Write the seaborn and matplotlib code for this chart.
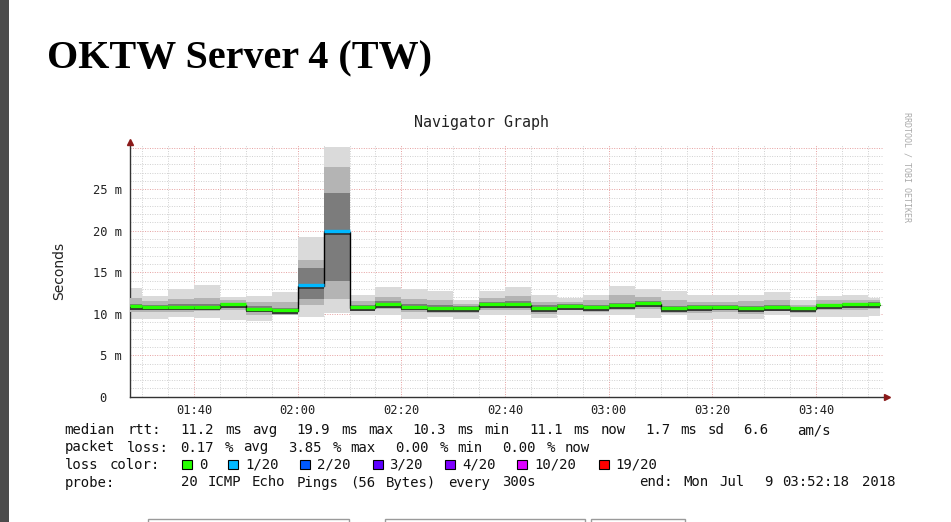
import re

import matplotlib
matplotlib.use("Agg")
import matplotlib.pyplot as plt
import seaborn as sns
from matplotlib.patches import Rectangle

# ---- data (time in minutes after 00:00, rtt in ms) ----
bin_start = [87.7, 90, 95, 100, 105, 110, 115, 120, 125, 130, 135, 140, 145,
             150, 155, 160, 165, 170, 175, 180, 185, 190, 195, 200, 205, 210,
             215, 220, 225, 230]
end_time = 232.3

median_ms = [10.8, 10.75, 10.75, 10.75, 11.0, 10.5, 10.3, 13.3, 19.9, 10.7,
             11.1, 10.75, 10.6, 10.6, 11.05, 11.05, 10.6, 10.85, 10.7, 10.9,
             11.2, 10.55, 10.7, 10.75, 10.55, 10.65, 10.55, 10.9, 11.0, 11.1]
smoke_min = [9.4, 9.4, 9.55, 9.5, 9.3, 9.15, 9.8, 9.6, 10.1, 9.9, 9.8, 9.4,
             9.6, 9.4, 9.8, 9.9, 9.5, 9.9, 9.8, 9.9, 9.5, 9.8, 9.2, 9.35,
             9.35, 9.9, 9.6, 9.6, 9.6, 9.75]
smoke_q1 = [10.2, 10.2, 10.2, 10.3, 10.4, 9.9, 9.9, 11.0, 11.8, 10.3, 10.6,
            10.2, 10.1, 10.1, 10.5, 10.5, 10.0, 10.4, 10.2, 10.4, 10.6, 10.1,
            10.1, 10.2, 10.0, 10.3, 10.1, 10.4, 10.5, 10.6]
smoke_c1 = [10.5, 10.5, 10.5, 10.5, 10.7, 10.2, 10.1, 11.8, 14.0, 10.5, 10.8,
            10.5, 10.35, 10.4, 10.8, 10.8, 10.3, 10.6, 10.45, 10.65, 10.9,
            10.3, 10.45, 10.5, 10.3, 10.45, 10.35, 10.65, 10.75, 10.85]
smoke_c3 = [11.2, 11.1, 11.2, 11.2, 11.3, 10.9, 10.7, 15.5, 24.5, 11.0, 11.5,
            11.2, 11.0, 10.95, 11.4, 11.5, 11.0, 11.15, 11.05, 11.35, 11.55,
            10.95, 11.0, 11.1, 10.9, 11.05, 10.85, 11.2, 11.3, 11.4]
smoke_q3 = [11.9, 11.5, 11.8, 11.9, 11.6, 11.4, 11.4, 16.5, 27.7, 11.5, 12.0,
            11.8, 11.6, 11.2, 11.9, 12.1, 11.4, 11.4, 11.6, 12.2, 12.0, 11.7,
            11.4, 11.4, 11.5, 11.7, 11.1, 11.6, 11.6, 11.6]
smoke_max = [13.1, 12.1, 13.0, 13.5, 12.0, 12.1, 12.6, 19.2, 30.1, 12.2, 13.2,
             13.0, 12.7, 11.6, 12.7, 13.2, 12.3, 11.9, 12.3, 13.4, 13.0, 12.7,
             12.2, 12.2, 12.3, 12.6, 11.6, 12.1, 12.2, 11.9]
loss_count = [0, 0, 0, 0, 0, 0, 0, 1, 1, 0, 0, 0, 0, 0, 0, 0, 0, 0, 0, 0, 0,
              0, 0, 0, 0, 0, 0, 0, 0, 0]

loss_labels = ["0", "1/20", "2/20", "3/20", "4/20", "10/20", "19/20"]
loss_colors = ["#26ff00", "#00b8ff", "#0059ff", "#5e00ff", "#7e00ff",
               "#dd00ff", "#ff0000"]
loss_key = [0, 1, 2, 3, 4, 10, 19]

x_ticks = [100, 120, 140, 160, 180, 200, 220]
x_labels = ["01:40", "02:00", "02:20", "02:40", "03:00", "03:20", "03:40"]
y_ticks = [0, 5, 10, 15, 20, 25]
y_labels = ["0  ", "5 m", "10 m", "15 m", "20 m", "25 m"]

page_title = "OKTW Server 4 (TW)"
graph_title = "Navigator Graph"
legend_rtt = ("median rtt:  11.2 ms avg  19.9 ms max  10.3 ms min  "
              "11.1 ms now  1.7 ms sd  6.6   am/s")
legend_loss = "packet loss: 0.17 % avg  3.85 % max  0.00 % min  0.00 % now"
legend_color = "loss color:"
legend_probe = "probe:       20 ICMP Echo Pings (56 Bytes) every 300s"
legend_end = "end: Mon Jul  9 03:52:18 2018"

# ---- figure ----
W, H = 951, 522
sns.set_style("white")
plt.rcParams["font.family"] = ["DejaVu Sans"]
plt.rcParams["text.color"] = "black"
MONO = "DejaVu Sans Mono"

fig = plt.figure(figsize=(W / 100, H / 100), dpi=100)


def fx(px):
    return px / W


def fy(py):
    return 1 - py / H


# page decoration: dark side bar, heading, form inputs
fig.add_artist(Rectangle((0, 0), fx(9), 1, transform=fig.transFigure,
                         color="#4b4b4b", lw=0))
fig.text(fx(47), fy(68), page_title, family="Liberation Serif",
         weight="bold", fontsize=28.9, va="baseline", ha="left",
         color="black")
for x0, x1 in [(148, 349), (385, 585), (591, 685)]:
    fig.add_artist(Rectangle((fx(x0), fy(530)), fx(x1 - x0), fy(519) - fy(530),
                             transform=fig.transFigure, fill=False,
                             ec="#9a9a9a", lw=1))

x_min, x_max = 87.66, 233.66
y_top = 30.7
ax = fig.add_axes([fx(130), fy(396.7), fx(887) - fx(130),
                   fy(142) - fy(396.7)])
ax.set_xlim(x_min, x_max)
ax.set_ylim(0, y_top)

# grid
grid_right = 232.9
for m in range(90, 231, 5):
    major = (m - 100) % 20 == 0
    ax.vlines(m, 0, 30.3, colors="#e6a0a0" if major else "#d0d0d0",
              linestyles=(0, (1, 1.5)), lw=0.7, zorder=0)
for v in range(1, 31):
    major = v % 5 == 0
    ax.hlines(v, x_min, grid_right, colors="#e6a0a0" if major else "#d0d0d0",
              linestyles=(0, (1, 1.5)), lw=0.7, zorder=0)

# smoke: nested bands, darker towards the median
bin_end = bin_start[1:] + [end_time]
widths = [e - s for s, e in zip(bin_start, bin_end)]
bands = [(smoke_min, smoke_max, "#dadada"),
         (smoke_q1, smoke_q3, "#b4b4b4"),
         (smoke_c1, smoke_c3, "#7c7c7c")]
for z, (lo, hi, col) in enumerate(bands):
    ax.bar(bin_start, [h - l for h, l in zip(hi, lo)], width=widths,
           bottom=lo, align="edge", color=col, lw=0, zorder=2 + z)
ax.bar(bin_start, [0.4] * len(bin_start), width=widths,
       bottom=[m - 0.35 for m in median_ms], align="edge", color="#3c3c3c",
       lw=0, zorder=5)

# median: black step line plus loss-coloured segments
sns.lineplot(x=bin_start + [end_time], y=median_ms + [median_ms[-1]],
             drawstyle="steps-post", color="black", lw=1, ax=ax,
             estimator=None, sort=False, zorder=6)
seg_colors = [loss_colors[loss_key.index(c)] for c in loss_count]
ax.hlines([m + 0.12 for m in median_ms], bin_start, bin_end,
          colors=seg_colors, lw=2.4, zorder=7)

# axes
sns.despine(ax=ax)
for side in ("left", "bottom"):
    ax.spines[side].set_color("#333333")
    ax.spines[side].set_linewidth(1)
ax.plot([x_min], [y_top], marker="^", color="#8b1a1a", ms=5, clip_on=False,
        zorder=8)
ax.plot([x_max], [0], marker=">", color="#8b1a1a", ms=5, clip_on=False,
        zorder=8)

ax.set_xticks(x_ticks)
ax.set_xticklabels(x_labels, family=MONO, fontsize=8.7, color="#222222")
ax.set_xticks(list(range(90, 231, 5)), minor=True)
ax.set_yticks(y_ticks)
ax.set_yticklabels(y_labels, family=MONO, fontsize=8.7, color="#222222")
ax.tick_params(axis="x", which="major", length=3, width=0.8, pad=2.5,
               color="#555555")
ax.tick_params(axis="x", which="minor", length=2, width=0.6, color="#777777")
ax.tick_params(axis="y", length=2, width=0.8, pad=4, color="#555555")
ax.set_xlabel("")
ax.set_ylabel("")

fig.text(fx(59), fy(271), "Seconds", rotation=90, fontsize=10,
         ha="center", va="center", color="#222222")
fig.text(fx(481.5), fy(123), graph_title, family=MONO, fontsize=10.8,
         ha="center", va="center", color="#222222")
fig.text(fx(906.5), fy(166.5), "RRDTOOL / TOBI OETIKER", family=MONO,
         fontsize=6, rotation=270, ha="center", va="center", color="#aaaaaa")

# legend below the graph, words set on rrdtool's character grid
CW = 8.93
X0 = 64.5
LEG_FS = 10.1


def put_words(line, x_start, y_base):
    for m in re.finditer(r"\S+", line):
        fig.text(fx(x_start + m.start() * CW), fy(y_base), m.group(),
                 family=MONO, fontsize=LEG_FS, va="baseline", ha="left",
                 color="#111111")


put_words(legend_rtt, X0, 434)
put_words(legend_loss, X0, 451.5)
put_words(legend_color, X0, 469)
put_words(legend_probe, X0, 486.5)
put_words(legend_end, 898 - len(legend_end) * CW, 486.5)

pos = 13.2
for label, col in zip(loss_labels, loss_colors):
    bx = X0 + pos * CW
    fig.add_artist(Rectangle((fx(bx), fy(469)), fx(10), fy(460) - fy(469),
                             transform=fig.transFigure, fc=col, ec="black",
                             lw=0.8))
    put_words(label, X0 + (pos + 1.9) * CW, 469)
    pos = pos + 1.9 + len(label) + 2.2

fig.savefig("out.png", dpi=100)
